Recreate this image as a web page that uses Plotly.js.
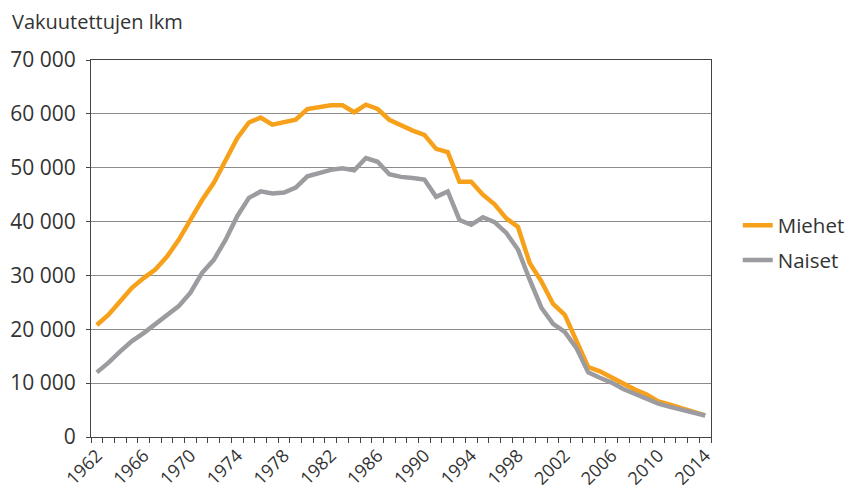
<!DOCTYPE html>
<html>
<head>
<meta charset="utf-8">
<script src="https://cdn.plot.ly/plotly-3.0.1.min.js"></script>
<style>html,body{margin:0;padding:0;background:#fff;}#chart{width:847px;height:488px;}</style>
</head>
<body>
<div id="chart"></div>
<script>
const years = [1962,1963,1964,1965,1966,1967,1968,1969,1970,1971,1972,1973,1974,1975,1976,1977,1978,1979,1980,1981,1982,1983,1984,1985,1986,1987,1988,1989,1990,1991,1992,1993,1994,1995,1996,1997,1998,1999,2000,2001,2002,2003,2004,2005,2006,2007,2008,2009,2010,2011,2012,2013,2014];
const miehet = [20800,22700,25200,27700,29500,31100,33500,36600,40300,44000,47200,51200,55500,58400,59300,58000,58400,58900,60900,61200,61600,61600,60300,61700,60900,58900,57800,56900,56100,53500,52900,47400,47400,45000,43200,40600,39000,32300,28900,24700,22700,17800,13000,12200,11000,9800,8800,7900,6600,6000,5400,4700,4000];
const naiset = [12000,13800,15900,17800,19300,20900,22500,24300,26800,30500,32900,36600,41000,44400,45600,45200,45400,46300,48400,49000,49600,49900,49500,51800,51100,48800,48300,48100,47800,44600,45600,40300,39400,40800,39900,37900,34800,29200,24000,21000,19500,16500,12000,11000,10100,8900,8000,7300,6200,5600,5000,4500,4000];
const tickYears = [1962,1966,1970,1974,1978,1982,1986,1990,1994,1998,2002,2006,2010,2014];
const yTitle = 'Vakuutettujen lkm';

const fontFam = '"Open Sans", sans-serif';
const data = [
  {x: years, y: miehet, name: 'Miehet', legendgroup: 'm', type: 'scatter', mode: 'lines', line: {color: '#F7A11A', width: 4.5}},
  {x: years, y: naiset, name: 'Naiset', legendgroup: 'n', type: 'scatter', mode: 'lines', line: {color: '#9C9CA0', width: 4.5}}
];
const layout = {
  width: 847, height: 488,
  margin: {l: 91, r: 136, t: 60, b: 51, autoexpand: false},
  paper_bgcolor: '#fff', plot_bgcolor: '#fff',
  separators: ', ',
  font: {family: fontFam, size: 20, color: '#333'},
  showlegend: true,
  legend: {xref: 'container', yref: 'container', x: 0.871, y: 0.502, xanchor: 'left', yanchor: 'middle', font: {size: 20.5, color: '#333'}, itemwidth: 30, tracegroupgap: 5},
  xaxis: {
    range: [1961.5, 2014.5], tickvals: tickYears, ticktext: tickYears.map(String), tickangle: -45,
    ticks: '', showgrid: false, zeroline: false,
    showline: true, linecolor: '#444', linewidth: 1, mirror: true,
    minor: {ticks: 'outside', ticklen: 5, tick0: 1961.5, dtick: 1, tickcolor: '#444', showgrid: false},
    tickfont: {size: 18, color: '#333'}
  },
  yaxis: {
    range: [0, 70000], dtick: 10000, tickformat: ',d', ticks: 'outside', ticklen: 4, tickcolor: '#444',
    showgrid: true, gridcolor: '#8c8c8c', gridwidth: 1, zeroline: false,
    showline: true, linecolor: '#444', linewidth: 1, mirror: true,
    tickfont: {size: 21, color: '#333'}, ticklabelstandoff: 6
  },
  annotations: [{
    text: yTitle, xref: 'paper', yref: 'paper', x: -0.130, y: 1.102,
    xanchor: 'left', yanchor: 'middle', showarrow: false, font: {size: 20, color: '#333'}
  }]
};
Plotly.newPlot('chart', data, layout, {displayModeBar: false, staticPlot: true});
</script>
</body>
</html>
